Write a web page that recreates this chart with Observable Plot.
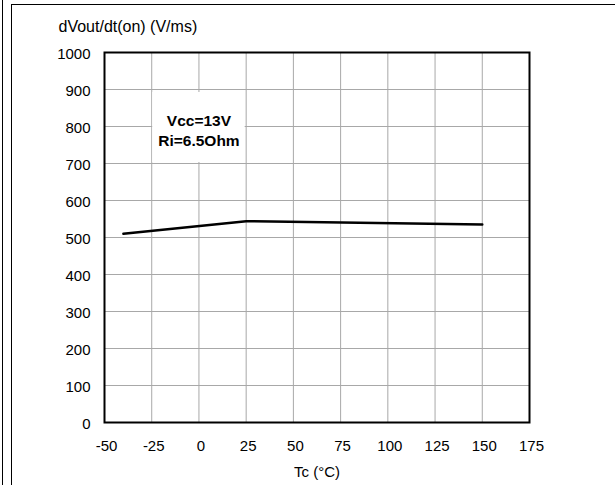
<!DOCTYPE html>
<html>
<head>
<meta charset="utf-8">
<script src="https://cdn.jsdelivr.net/npm/d3@7"></script>
<script src="https://cdn.jsdelivr.net/npm/@observablehq/plot@0.6"></script>
<style>
  html, body { margin: 0; padding: 0; background: #fff; }
  #wrap { position: relative; width: 615px; height: 485px; overflow: hidden; }
  #wrap svg { position: absolute; left: 0; top: 0; }
  .edge { position: absolute; background: #000; }
</style>
</head>
<body>
<div id="wrap">
  <div class="edge" style="left:2px; top:0; width:1px; height:485px;"></div>
  <div class="edge" style="left:11px; top:4px; width:1px; height:481px;"></div>
  <div class="edge" style="left:11px; top:4px; width:604px; height:1px;"></div>
</div>
<script>
// Data
const tempC = [-40, 25, 150];
const slewRate = [510, 544, 535];

const xTicks = [-50, -25, 0, 25, 50, 75, 100, 125, 150, 175];
const yTicks = [0, 100, 200, 300, 400, 500, 600, 700, 800, 900, 1000];

const yTitle = "dVout/dt(on) (V/ms)";
const xTitle = "Tc (°C)";
const annotation = ["Vcc=13V", "Ri=6.5Ohm"];
const annotationAt = {x: 0, y: 792};
const annotationBox = {x1: -25, x2: 25, y1: 700, y2: 900};

const data = tempC.map((t, i) => ({t, v: slewRate[i]}));
const plain = d => String(d);

const chart = Plot.plot({
  width: 615,
  height: 485,
  marginLeft: 104,
  marginRight: 86,
  marginTop: 52,
  marginBottom: 63,
  style: {
    fontFamily: "'Liberation Sans', Arial, sans-serif",
    fontSize: "15px",
    color: "#000",
    background: "transparent",
    overflow: "visible"
  },
  x: {domain: [-50, 175]},
  y: {domain: [0, 1000]},
  marks: [
    Plot.gridX(xTicks, {stroke: "#a8a8a8", strokeOpacity: 1, strokeWidth: 1}),
    Plot.gridY(yTicks, {stroke: "#a8a8a8", strokeOpacity: 1, strokeWidth: 1}),
    Plot.rect([annotationBox], {
      x1: "x1", x2: "x2", y1: "y1", y2: "y2",
      fill: "white", insetLeft: 1, insetRight: 1, insetTop: 3, insetBottom: 1
    }),
    Plot.line(data, {x: "t", y: "v", stroke: "#000", strokeWidth: 2.5}),
    Plot.frame({stroke: "#000", strokeWidth: 2}),
    Plot.axisX(xTicks, {tickSize: 0, tickPadding: 18, label: null, dx: 2, fontSize: 15, tickFormat: plain}),
    Plot.axisY(yTicks, {tickSize: 0, tickPadding: 14, label: null, dy: 2, fontSize: 15, tickFormat: plain}),
    Plot.text([annotation.join("\n")], {
      x: () => annotationAt.x, y: () => annotationAt.y,
      text: d => d, textAnchor: "middle", lineAnchor: "middle",
      lineHeight: 1.3, fontWeight: "bold", fontSize: 15.5, fill: "#000"
    }),
    Plot.text([yTitle], {
      frameAnchor: "top-left", text: d => d, textAnchor: "start",
      lineAnchor: "bottom", dx: -46, dy: -21, fontSize: 16, fill: "#000"
    }),
    Plot.text([xTitle], {
      frameAnchor: "bottom", text: d => d, textAnchor: "middle",
      lineAnchor: "top", dy: 44, fontSize: 15, fill: "#000"
    })
  ]
});
document.getElementById("wrap").prepend(chart);
</script>
</body>
</html>
